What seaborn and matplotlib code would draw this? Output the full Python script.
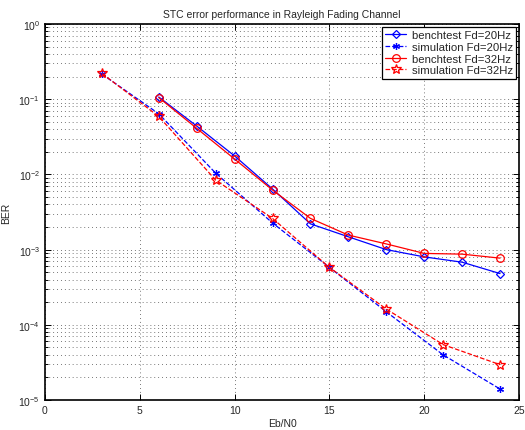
import numpy as np
import pandas as pd
import matplotlib
matplotlib.use("Agg")
import matplotlib.pyplot as plt
import seaborn as sns

# --- Data ---
bench_snr = [6, 8, 10, 12, 14, 16, 18, 20, 22, 24]
bench_20 = [0.107, 0.044, 0.0176, 0.0064, 0.0022, 0.00148, 0.00100, 0.00080, 0.00068, 0.00048]
bench_32 = [0.105, 0.041, 0.0160, 0.0062, 0.0026, 0.00156, 0.00119, 0.00089, 0.00087, 0.00077]

sim_snr = [3, 6, 9, 12, 15, 18, 21, 24]
sim_20 = [0.216, 0.064, 0.0104, 0.00226, 0.00058, 0.000149, 0.0000398, 0.0000140]
sim_32 = [0.220, 0.059, 0.0084, 0.0026, 0.00058, 0.000162, 0.0000545, 0.0000295]

labels = ["benchtest Fd=20Hz", "simulation Fd=20Hz", "benchtest Fd=32Hz", "simulation Fd=32Hz"]

sns.set_style("white")
plt.rcParams["font.family"] = ["Liberation Sans", "DejaVu Sans"]
plt.rcParams["font.size"] = 7
plt.rcParams["xtick.direction"] = "in"
plt.rcParams["ytick.direction"] = "in"

fig = plt.figure(figsize=(5.25, 4.31), dpi=100)
ax = fig.add_axes([0.0857, 0.0696, 0.9029, 0.8724])

series = [
    (bench_snr, bench_20, labels[0], "blue", "-", "D", 4.5),
    (sim_snr, sim_20, labels[1], "blue", "--", (6, 2, 0), 5),
    (bench_snr, bench_32, labels[2], "red", "-", "o", 5.5),
    (sim_snr, sim_32, labels[3], "red", "--", "*", 7),
]
for x, y, lab, col, ls, mk, ms in series:
    df = pd.DataFrame({"x": x, "y": y})
    sns.lineplot(data=df, x="x", y="y", ax=ax, color=col, linestyle=ls, linewidth=0.9,
                 marker=mk, markersize=ms, markerfacecolor="none", markeredgecolor=col,
                 markeredgewidth=0.9, label=lab)

ax.set_yscale("log")
ax.set_xlim(0, 25)
ax.set_ylim(1e-5, 1)
ax.set_xticks([0, 5, 10, 15, 20, 25])
ax.set_yticks([1e-5, 1e-4, 1e-3, 1e-2, 1e-1, 1])
ax.grid(True, which="major", axis="both", linestyle=(0, (0.8, 3.2)), color="0.35", linewidth=0.7)
ax.grid(True, which="minor", axis="y", linestyle=(0, (0.8, 3.2)), color="0.35", linewidth=0.7)
ax.tick_params(which="both", bottom=True, left=True, top=True, right=True,
               labelsize=7.5, length=4, width=0.7, color="black")
ax.tick_params(which="minor", length=2)
for s in ax.spines.values():
    s.set_color("black")
    s.set_linewidth(1.2)

ax.set_title("STC error performance in Rayleigh Fading Channel", fontsize=7.5, pad=5)
ax.set_xlabel("Eb/N0", fontsize=7.5, labelpad=2)
ax.set_ylabel("BER", fontsize=7.5, labelpad=5)

leg = ax.legend(loc="upper right", fontsize=8.2, frameon=True, fancybox=False,
                framealpha=1, edgecolor="black", borderaxespad=0.25,
                handlelength=1.8, handletextpad=0.5, borderpad=0.3, labelspacing=0.15)
leg.get_frame().set_linewidth(0.9)

fig.savefig("out.png", dpi=100)
